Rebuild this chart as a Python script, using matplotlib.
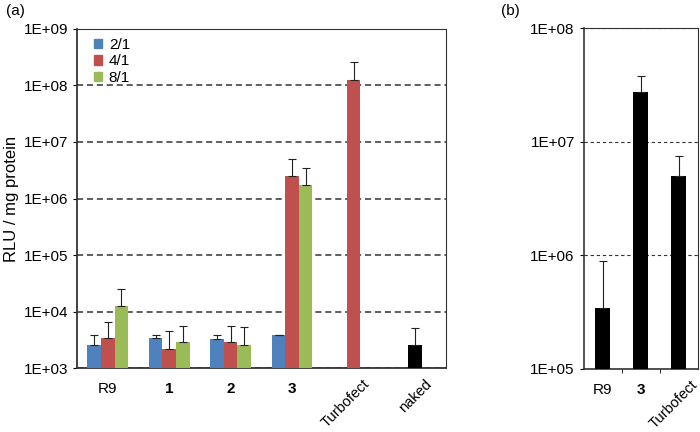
import numpy as np
import matplotlib.pyplot as plt
from matplotlib.patches import Patch
from matplotlib.transforms import offset_copy

plt.rcParams['font.family'] = ['Liberation Sans', 'DejaVu Sans']
plt.rcParams['font.size'] = 11

# panel (a)
groups_a = ['R9', '1', '2', '3', 'Turbofect', 'naked']
ratios = ['2/1', '4/1', '8/1']
colors = ['#4F81BD', '#C0504D', '#9BBB59']
vals_a = {
    '2/1': [2.6e3, 3.4e3, 3.25e3, 3.8e3, np.nan, np.nan],
    '4/1': [3.35e3, 2.2e3, 2.85e3, 2.5e6, 1.25e8, np.nan],
    '8/1': [1.25e4, 2.85e3, 2.6e3, 1.7e6, np.nan, np.nan],
}
errtop_a = {
    '2/1': [3.8e3, 3.8e3, 3.8e3, 3.85e3, np.nan, np.nan],
    '4/1': [6.6e3, 4.45e3, 5.6e3, 5.0e6, 2.6e8, np.nan],
    '8/1': [2.5e4, 5.6e3, 5.25e3, 3.4e6, np.nan, np.nan],
}
naked_val = 2.55e3
naked_err = 5.2e3

# panel (b)
groups_b = ['R9', '3', 'Turbofect']
vals_b = [3.45e5, 2.75e7, 5.0e6]
errtop_b = [9.0e5, 3.75e7, 7.5e6]

rotated = ('Turbofect', 'naked')
bold = ('1', '2', '3')

fig = plt.figure(figsize=(7, 4.32), dpi=100)
ax = fig.add_axes([0.110, 0.148, 0.527, 0.785])
bx = fig.add_axes([0.834, 0.146, 0.163, 0.789])


def cat_labels(axis, xs, names, dx):
    axis.set_xticks(xs)
    axis.set_xticklabels([n if n not in rotated else '' for n in names])
    for lab in axis.get_xticklabels():
        if lab.get_text() in bold:
            lab.set_fontweight('bold')
    tr = offset_copy(axis.get_xaxis_transform(), fig=fig, x=dx, y=-9, units='dots')
    for xi, n in zip(xs, names):
        if n in rotated:
            axis.text(xi, 0, n, transform=tr, rotation=45, ha='right', va='top',
                      rotation_mode='anchor', fontsize=10.5)


x = np.arange(len(groups_a))
w = 0.22
for i, r in enumerate(ratios):
    v = np.array(vals_a[r])
    e = np.array(errtop_a[r]) - v
    xs = x + (i - 1) * w
    ax.bar(xs, v, w, color=colors[i], zorder=3)
    ax.errorbar(xs, v, yerr=[np.zeros_like(e), e], fmt='none', ecolor='#222222',
                elinewidth=0.8, capsize=3, capthick=0.8, zorder=4)
ax.bar(x[5], naked_val, w, color='black', zorder=3)
ax.errorbar(x[5], naked_val, yerr=[[0], [naked_err - naked_val]], fmt='none',
            ecolor='#222222', elinewidth=0.8, capsize=3, capthick=0.8, zorder=4)

ax.set_yscale('log')
ax.set_ylim(1e3, 1e9)
ax.set_xlim(-0.5, 5.5)
ax.set_yticks([1e3, 1e4, 1e5, 1e6, 1e7, 1e8, 1e9])
ax.set_yticklabels(['1E+03', '1E+04', '1E+05', '1E+06', '1E+07', '1E+08', '1E+09'])
ax.minorticks_off()
ax.yaxis.grid(True, linestyle=(0, (4, 2.5)), color='#333333', linewidth=1.1, zorder=0)
cat_labels(ax, x, groups_a, 9)
ax.tick_params(axis='x', length=0, pad=10)
ax.tick_params(axis='y', direction='out', length=3)
ax.set_ylabel('RLU / mg protein', fontsize=12, labelpad=3)
for s in ax.spines.values():
    s.set_color('#333333')
ax.spines['left'].set_linewidth(1.3)
ax.spines['bottom'].set_linewidth(1.3)
ax.spines['top'].set_linewidth(0.8)
ax.spines['right'].set_linewidth(0.8)

handles = [Patch(color=c, label=r) for c, r in zip(colors, ratios)]
ax.legend(handles=handles, loc='upper left', frameon=False, handlelength=0.55,
          handleheight=0.55, handletextpad=0.45, labelspacing=0.15,
          borderaxespad=0.2, bbox_to_anchor=(0.02, 1.0))

xb = np.arange(len(groups_b))
vb = np.array(vals_b)
eb = np.array(errtop_b) - vb
bx.bar(xb, vb, 0.39, color='black', zorder=3)
bx.errorbar(xb, vb, yerr=[np.zeros_like(eb), eb], fmt='none', ecolor='#222222',
            elinewidth=0.8, capsize=3, capthick=0.8, zorder=4)
bx.set_yscale('log')
bx.set_ylim(1e5, 1e8)
bx.set_xlim(-0.5, 2.5)
bx.set_yticks([1e5, 1e6, 1e7, 1e8])
bx.set_yticklabels(['1E+05', '1E+06', '1E+07', '1E+08'])
bx.minorticks_off()
bx.yaxis.grid(True, linestyle=(0, (3, 2.5)), color='#333333', linewidth=0.8, zorder=0)
bx.set_xticks([0.5, 1.5], minor=True)
cat_labels(bx, xb, groups_b, 12)
bx.tick_params(axis='x', which='major', length=0, pad=10)
bx.tick_params(axis='x', which='minor', length=3, direction='out')
bx.tick_params(axis='y', direction='out', length=3)
for s in bx.spines.values():
    s.set_color('#333333')
    s.set_linewidth(0.8)
bx.spines['left'].set_linewidth(1.2)
bx.spines['bottom'].set_linewidth(1.2)

fig.text(0.008, 0.975, '(a)', fontsize=11, va='center')
fig.text(0.715, 0.975, '(b)', fontsize=11, va='center')

fig.savefig('out.png', dpi=100)
